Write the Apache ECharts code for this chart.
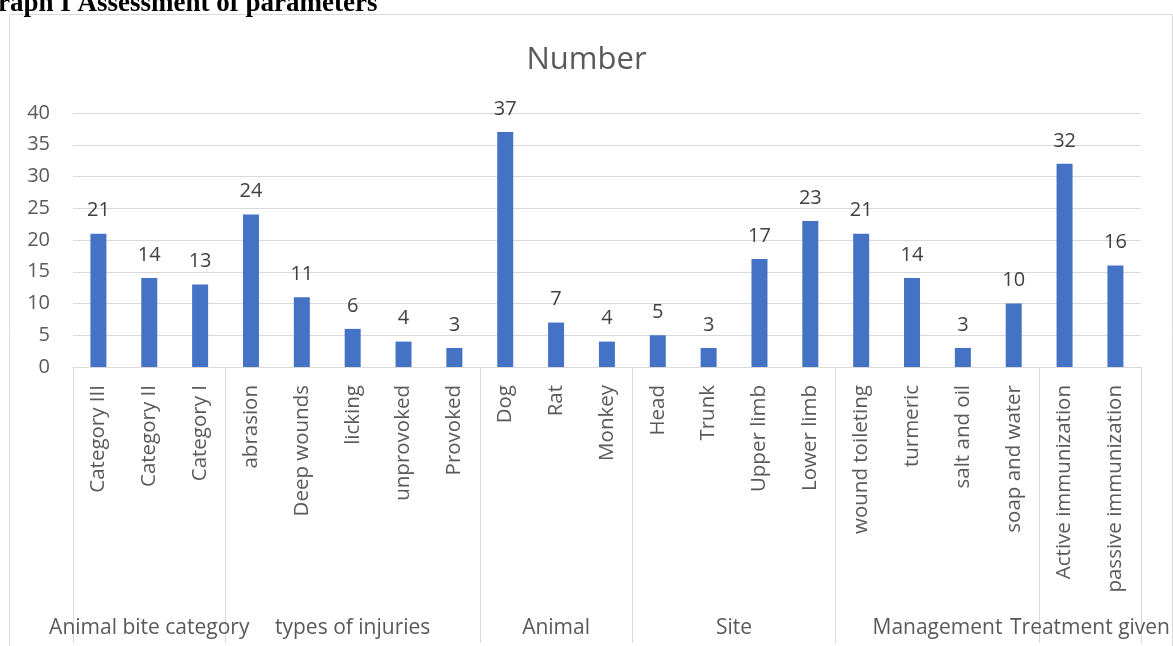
<!DOCTYPE html>
<html>
<head>
<meta charset="utf-8">
<script src="https://cdn.jsdelivr.net/npm/echarts@6/dist/echarts.min.js"></script>
<style>
html,body{margin:0;padding:0;background:#fff;}
#chart{width:1173px;height:646px;}
</style>
</head>
<body>
<div id="chart"></div>
<script>
var heading = 'Graph I Assessment of parameters';
var chartTitle = 'Number';
var categories = ['Category III','Category II','Category I','abrasion','Deep wounds','licking','unprovoked','Provoked','Dog','Rat','Monkey','Head','Trunk','Upper limb','Lower limb','wound toileting','turmeric','salt and oil','soap and water','Active immunization','passive immunization'];
var values = [21,14,13,24,11,6,4,3,37,7,4,5,3,17,23,21,14,3,10,32,16];
var groupNames = ['Animal bite category','types of injuries','Animal','Site','Management','Treatment given'];
var groupSizes = [3,5,3,4,4,2];
var yTicks = [0,5,10,15,20,25,30,35,40];

var groupStarts = [];
var groupCenters = {};
(function(){
  var s = 0;
  for (var i = 0; i < groupSizes.length; i++) {
    groupStarts.push(s);
    groupCenters[(s + groupSizes[i] / 2).toFixed(1)] = groupNames[i];
    s += groupSizes[i];
  }
})();

var FONT = 'Open Sans';
var chart = echarts.init(document.getElementById('chart'), null, {renderer:'canvas'});
chart.setOption({
  animation: false,
  backgroundColor: '#fff',
  title: {
    text: chartTitle, left: 'center', top: 40,
    textStyle: {fontFamily: FONT, fontSize: 31, fontWeight: 'normal', color: '#595959'}
  },
  graphic: [
    {type:'rect', z:-1, silent:true, shape:{x:9.5, y:14.5, width:1163, height:700}, style:{fill:'none', stroke:'#d9d9d9', lineWidth:1}},
    {type:'text', left:-23, top:-9, style:{text: heading, font:'bold 27px "Liberation Serif"', fill:'#000'}}
  ],
  grid: {left:73, right:28, top:113, bottom:279},
  xAxis: [
    {
      type:'category', data: categories, position:'bottom',
      axisLine:{show:true, lineStyle:{color:'#d9d9d9', width:1}},
      axisTick:{show:true, length:276, interval:function(idx){return groupStarts.indexOf(idx) >= 0;}, lineStyle:{color:'#d9d9d9', width:1}},
      axisLabel:{interval:0, rotate:90, margin:18, fontFamily:FONT, fontSize:20.5, color:'#595959'},
      splitLine:{show:false}
    },
    {
      type:'value', min:0, max:categories.length, interval:0.5, position:'bottom', offset:251,
      axisLine:{show:false}, axisTick:{show:false}, splitLine:{show:false},
      axisLabel:{margin:0, fontFamily:FONT, fontSize:21, color:'#595959', showMinLabel:true, showMaxLabel:true,
        formatter:function(v){ return groupCenters[v.toFixed(1)] || ''; }}
    }
  ],
  yAxis: {
    type:'value', min:yTicks[0], max:yTicks[yTicks.length-1], interval:yTicks[1]-yTicks[0],
    axisLine:{show:false}, axisTick:{show:false},
    axisLabel:{margin:23, fontFamily:FONT, fontSize:20, color:'#595959'},
    splitLine:{show:true, lineStyle:{color:'#d9d9d9', width:1}}
  },
  series: [{
    type:'bar', data: values, xAxisIndex:0, barWidth:16,
    itemStyle:{color:'#4472C4'},
    label:{show:true, position:'top', distance:13, fontFamily:FONT, fontSize:20, color:'#404040'}
  }]
});
</script>
</body>
</html>
